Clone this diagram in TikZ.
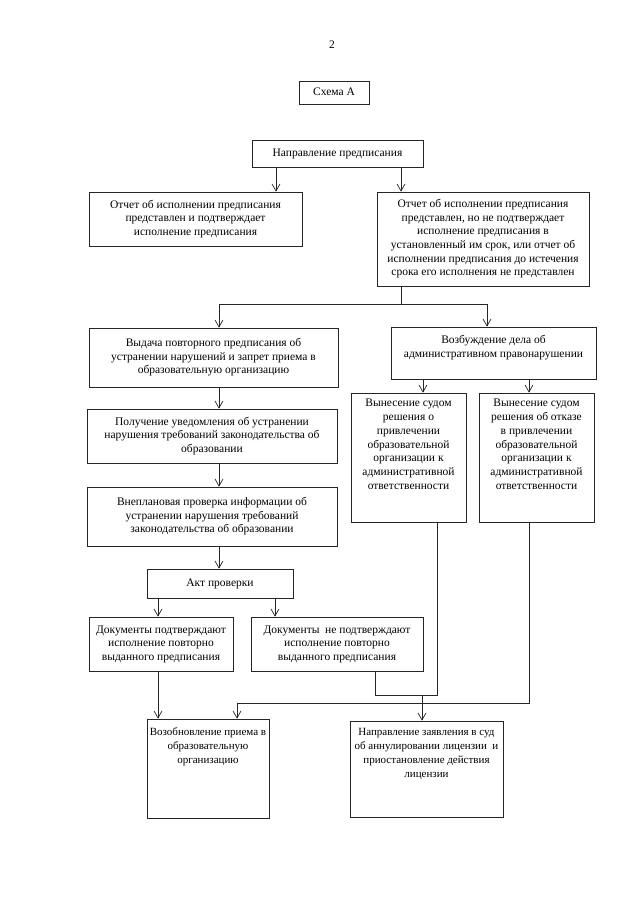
\documentclass[tikz,border=0pt]{standalone}
\usepackage{fontspec}
\setmainfont{Liberation Serif}
\usetikzlibrary{arrows.meta}
\newcommand\fs{\fontsize{11.5}{13.7}\selectfont}
\newcommand\fss{\fontsize{11}{13.7}\selectfont}
\newcommand\bxc[3]{\parbox[c][#2pt][c]{#1pt}{\centering\strut #3\strut\par}}
\newcommand\bxt[4]{\parbox[c][#2pt][t]{#1pt}{\centering\vspace*{#3pt}\strut #4\par}}
\begin{document}
\begin{tikzpicture}[x=1pt,y=-1pt,
  bx/.style={draw=black!85, line width=0.7pt, inner sep=0pt, font=\fs},
  ln/.style={draw=black!85, line width=0.7pt},
  ar/.style={ln, -{Straight Barb[length=7pt,width=8pt]}}]
\useasboundingbox[fill=white] (0,0) rectangle (640,905);

\node[font=\fs] (pg) at (332,45) {2};
\node[bx] (n0) at (334,92.5) {\bxc{70}{23}{Схема А}};
\node[bx] (n1) at (337.5,153.5) {\bxc{171}{27}{Направление предписания}};
\node[bx] (n2) at (195.5,219) {\bxc{213}{54}{Отчет об исполнении предписания\\ представлен и подтверждает\\ исполнение предписания}};
\node[bx] (n3) at (483,239) {\bxc{212}{94}{Отчет об исполнении предписания\\ представлен, но не подтверждает\\ исполнение предписания в\\ установленный им срок, или отчет об\\ исполнении предписания до истечения\\ срока его исполнения не представлен}};
\node[bx] (n4) at (213.5,357.5) {\bxc{249}{59}{Выдача повторного предписания об\\ устранении нарушений и запрет приема в\\ образовательную организацию}};
\node[bx] (n5) at (493.5,353) {\bxt{205}{52}{7.4}{Возбуждение дела об\\ административном правонарушении}};
\node[bx] (n6) at (408.5,457.5) {\bxt{115}{129}{4.4}{Вынесение судом\\ решения о\\ привлечении\\ образовательной\\ организации к\\ административной\\ ответственности}};
\node[bx] (n7) at (536.5,457.5) {\bxt{115}{129}{4.4}{Вынесение судом\\ решения об отказе\\ в привлечении\\ образовательной\\ организации к\\ административной\\ ответственности}};
\node[bx] (n8) at (212,436) {\bxc{250}{54}{Получение уведомления об устранении\\ нарушения требований законодательства об\\ образовании}};
\node[bx] (n9) at (212,516.5) {\bxc{250}{59}{Внеплановая проверка информации об\\ устранении нарушения требований\\ законодательства об образовании}};
\node[bx] (n10) at (220,583.5) {\bxc{146}{29}{Акт проверки}};
\node[bx] (n11) at (161,644) {\bxc{144}{54}{Документы подтверждают\\ исполнение повторно\\ выданного предписания}};
\node[bx] (n12) at (337,644) {\bxc{172}{54}{Документы\ \ не подтверждают\\ исполнение повторно\\ выданного предписания}};
\node[bx, font=\fss] (n13) at (208,768.5) {\bxt{122}{99}{7.4}{Возобновление приема в\\ образовательную\\ организацию}};
\node[bx, font=\fss] (n14) at (426.5,769) {\bxt{153}{96}{5.4}{Направление заявления в суд\\ об аннулировании лицензии\ \ и\\ приостановление действия\\ лицензии}};

\coordinate (j1) at (401,304);
\coordinate (j2) at (422,695);
\coordinate (j3) at (237,703);

\draw[ar] (276,0 |- n1.south) -- (276,0 |- n2.north);
\draw[ar] (401,0 |- n1.south) -- (401,0 |- n3.north);
\draw[ln] (401,0 |- n3.south) -- (j1);
\draw[ar] (j1) -| (219,0 |- n4.north);
\draw[ar] (j1) -| (487,0 |- n5.north);
\draw[ar] (219,0 |- n4.south) -- (219,0 |- n8.north);
\draw[ar] (219,0 |- n8.south) -- (219,0 |- n9.north);
\draw[ar] (219,0 |- n9.south) -- (219,0 |- n10.north);
\draw[ar] (158,0 |- n10.south) -- (158,0 |- n11.north);
\draw[ar] (275,0 |- n10.south) -- (275,0 |- n12.north);
\draw[ar] (423,0 |- n5.south) -- (423,0 |- n6.north);
\draw[ar] (529,0 |- n5.south) -- (529,0 |- n7.north);
\draw[ar] (158,0 |- n11.south) -- (158,0 |- n13.north);
\draw[ln] (437,0 |- n6.south) |- (j2);
\draw[ln] (375,0 |- n12.south) |- (j2);
\draw[ar] (j2) -- (422,0 |- n14.north);
\draw[ar] (529,0 |- n7.south) |- (j3) -- (237,0 |- n13.north);
\end{tikzpicture}
\end{document}
